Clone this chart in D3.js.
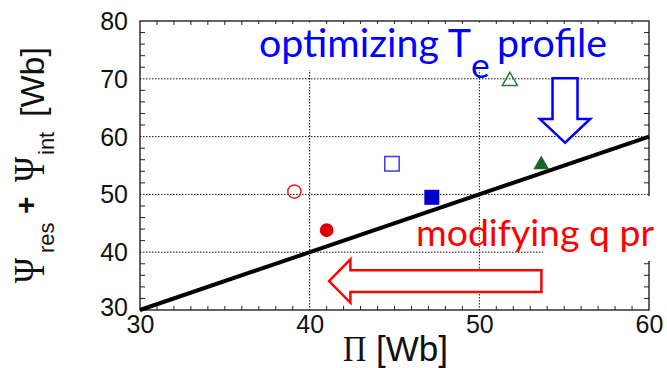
<!DOCTYPE html>
<html><head><meta charset="utf-8">
<script src="https://cdn.jsdelivr.net/npm/d3@7"></script>
<style>body{margin:0;background:#fff}svg{display:block}</style>
</head><body>
<svg id="c" width="667" height="368"></svg>
<script>
// ---- data ----
const xTickValues = [30, 40, 50, 60];
const yTickValues = [30, 40, 50, 60, 70, 80];
const piValues  = [39.1, 41.0, 44.85, 47.2, 51.8, 53.65];
const psiValues = [50.5, 43.8, 55.3, 49.5, 69.6, 55.15];
const markerShapes = ["circle", "circle", "square", "square", "triangle", "triangle"];
const markerFilled = [false, true, false, true, false, true];
const markerColors = ["#e02020", "#dd0000", "#3a3ae0", "#0000cc", "#2a7a38", "#1a6428"];
const refLineX = [30, 60];
const refLineY = [30, 60];
const annotTexts = ["optimizing T", "e", "profile", "modifying q pr"];

// ---- scales ----
const svg = d3.select("#c");
const x = d3.scaleLinear().domain([30, 60]).range([140, 649]);
const y = d3.scaleLinear().domain([30, 80]).range([310, 21]);
const x0 = x.range()[0], x1 = x.range()[1], y0 = y.range()[0], y1 = y.range()[1];

// grid
const g = svg.append("g");
g.selectAll("line.gx").data(xTickValues.slice(1, -1)).enter().append("line")
  .attr("x1", d => x(d)).attr("x2", d => x(d)).attr("y1", y1).attr("y2", y0)
  .attr("stroke", "#111").attr("stroke-width", 1).attr("stroke-dasharray", "1.5,1.5");
g.selectAll("line.gy").data(yTickValues.slice(1, -1)).enter().append("line")
  .attr("x1", x0).attr("x2", x1).attr("y1", d => y(d)).attr("y2", d => y(d))
  .attr("stroke", "#111").attr("stroke-width", 1).attr("stroke-dasharray", "1.5,1.5");

// minor ticks, inward, all sides
const xMinor = d3.range(31, 60, 1).filter(v => v % 10 !== 0);
const yMinor = d3.range(32, 80, 2).filter(v => v % 10 !== 0);
const tk = svg.append("g").attr("stroke", "#222").attr("stroke-width", 1);
xMinor.forEach(v => {
  tk.append("line").attr("x1", x(v)).attr("x2", x(v)).attr("y1", y0).attr("y2", y0 - 4);
  tk.append("line").attr("x1", x(v)).attr("x2", x(v)).attr("y1", y1).attr("y2", y1 + 4);
});
yMinor.forEach(v => {
  tk.append("line").attr("y1", y(v)).attr("y2", y(v)).attr("x1", x0).attr("x2", x0 + 5);
  tk.append("line").attr("y1", y(v)).attr("y2", y(v)).attr("x1", x1).attr("x2", x1 - 5);
});
// frame
svg.append("rect").attr("x", x0).attr("y", y1).attr("width", x1 - x0).attr("height", y0 - y1)
  .attr("fill", "none").attr("stroke", "#111").attr("stroke-width", 1.3);

// tick labels via axes
const fontTick = "'Liberation Sans', Arial, sans-serif";
const ax = svg.append("g").attr("transform", `translate(0,${y0})`)
  .call(d3.axisBottom(x).tickValues(xTickValues).tickSize(0).tickPadding(5).tickFormat(d3.format("d")));
ax.select(".domain").remove();
ax.selectAll("text").attr("font-family", fontTick).attr("font-size", 25).attr("fill", "#111");
const ay = svg.append("g").attr("transform", `translate(${x0},0)`)
  .call(d3.axisLeft(y).tickValues(yTickValues).tickSize(0).tickPadding(12).tickFormat(d3.format("d")));
ay.select(".domain").remove();
ay.selectAll("text").attr("font-family", fontTick).attr("font-size", 25).attr("fill", "#111")
  .attr("dy", d => d === 30 ? "0.22em" : "0.34em");

// reference line
svg.append("path").datum(refLineX.map((v, i) => [v, refLineY[i]]))
  .attr("d", d3.line().x(d => x(d[0])).y(d => y(d[1])))
  .attr("stroke", "#000").attr("stroke-width", 4).attr("fill", "none");

// markers
const symType = { circle: d3.symbolCircle, square: d3.symbolSquare, triangle: d3.symbolTriangle };
const symSize = { circle: 150, square: 225, triangle: 108 };
svg.selectAll("path.m").data(piValues.map((v, i) => i)).enter().append("path")
  .attr("transform", i => `translate(${x(piValues[i])},${y(psiValues[i])})`)
  .attr("d", i => d3.symbol().type(symType[markerShapes[i]]).size(symSize[markerShapes[i]] * (markerFilled[i] ? 1 : 0.92))())
  .attr("fill", i => markerFilled[i] ? markerColors[i] : "none")
  .attr("stroke", i => markerFilled[i] ? "none" : markerColors[i])
  .attr("stroke-width", 1.5);

// white boxes behind annotations
svg.append("rect").attr("x", 250).attr("y", 24).attr("width", 390).attr("height", 46).attr("fill", "#fff");
svg.append("rect").attr("x", 543).attr("y", 196).attr("width", 130).attr("height", 65).attr("fill", "#fff");

// annotation text
const fontAnn = "Lato, 'Open Sans', sans-serif";
function fitSize(txt, target) {
  const t = svg.append("text").attr("font-family", fontAnn).attr("font-size", 100).text(txt);
  const w = t.node().getComputedTextLength(); t.remove();
  return 100 * target / w;
}
const fs1 = fitSize("optimizing T", 212);
const blue = "#0000ff", red = "#ff0000";
svg.append("text").attr("x", 259).attr("y", 56.5).attr("font-family", fontAnn).attr("font-size", fs1).attr("fill", blue).text(annotTexts[0]);
svg.append("text").attr("x", 471).attr("y", 78).attr("font-family", fontAnn).attr("font-size", fs1 * 0.9).attr("fill", blue).text(annotTexts[1]);
svg.append("text").attr("x", 497).attr("y", 56.5).attr("font-family", fontAnn).attr("font-size", fs1).attr("fill", blue).text(annotTexts[2]);
const fs2 = fitSize("modifying q pr", 238);
svg.append("text").attr("x", 416).attr("y", 246).attr("font-family", fontAnn).attr("font-size", fs2).attr("fill", red).text(annotTexts[3]);

// arrows (anchored at data coordinates of their tips)
const blueTip = [x(55.05), y(58.95)];
svg.append("path").attr("transform", `translate(${blueTip[0]},${blueTip[1]})`)
  .attr("d", "M0,0 L-25.2,-23.7 L-12.5,-23.7 L-12.5,-64.4 L12.5,-64.4 L12.5,-23.7 L25.2,-23.7 Z")
  .attr("fill", "#fff").attr("stroke", blue).attr("stroke-width", 2.5).attr("stroke-linejoin", "miter");
const redTip = [x(41.14), y(35.0)];
svg.append("path").attr("transform", `translate(${redTip[0]},${redTip[1]})`)
  .attr("d", "M0,0 L21.4,-21.7 L21.4,-10.8 L212.4,-10.8 L212.4,10.8 L21.4,10.8 L21.4,21.7 Z")
  .attr("fill", "#fff").attr("stroke", red).attr("stroke-width", 2.5).attr("stroke-linejoin", "miter");

// axis titles
const serif = "'Liberation Serif', 'Times New Roman', serif";
const xl = svg.append("g").attr("transform", "translate(343,361)");
xl.append("text").attr("font-family", serif).attr("font-size", 33).attr("fill", "#111")
  .attr("transform", "scale(0.98,1.1)").text("Π");
xl.append("text").attr("x", 33).attr("font-family", fontTick).attr("font-size", 35).attr("fill", "#111").text("[Wb]");

const yl = svg.append("g").attr("transform", "translate(44,283) rotate(-90)");
yl.append("text").attr("font-family", serif).attr("font-size", 34).attr("fill", "#111")
  .attr("transform", "scale(1,1.3)").text("Ψ");
yl.append("text").attr("x", 30).attr("y", 10).attr("font-family", fontTick).attr("font-size", 22).attr("fill", "#111").text("res");
yl.append("text").attr("x", 69).attr("y", -8).attr("font-family", fontTick).attr("font-size", 30).attr("font-weight", "bold").attr("fill", "#111").text("+");
yl.append("text").attr("x", 101).attr("font-family", serif).attr("font-size", 34).attr("fill", "#111")
  .attr("transform", "translate(101,0) scale(1,1.3) translate(-101,0)").text("Ψ");
yl.append("text").attr("x", 128).attr("y", 10).attr("font-family", fontTick).attr("font-size", 22).attr("fill", "#111").text("int");
yl.append("text").attr("x", 166).attr("font-family", fontTick).attr("font-size", 34).attr("fill", "#111").text("[Wb]");
</script>
</body></html>
